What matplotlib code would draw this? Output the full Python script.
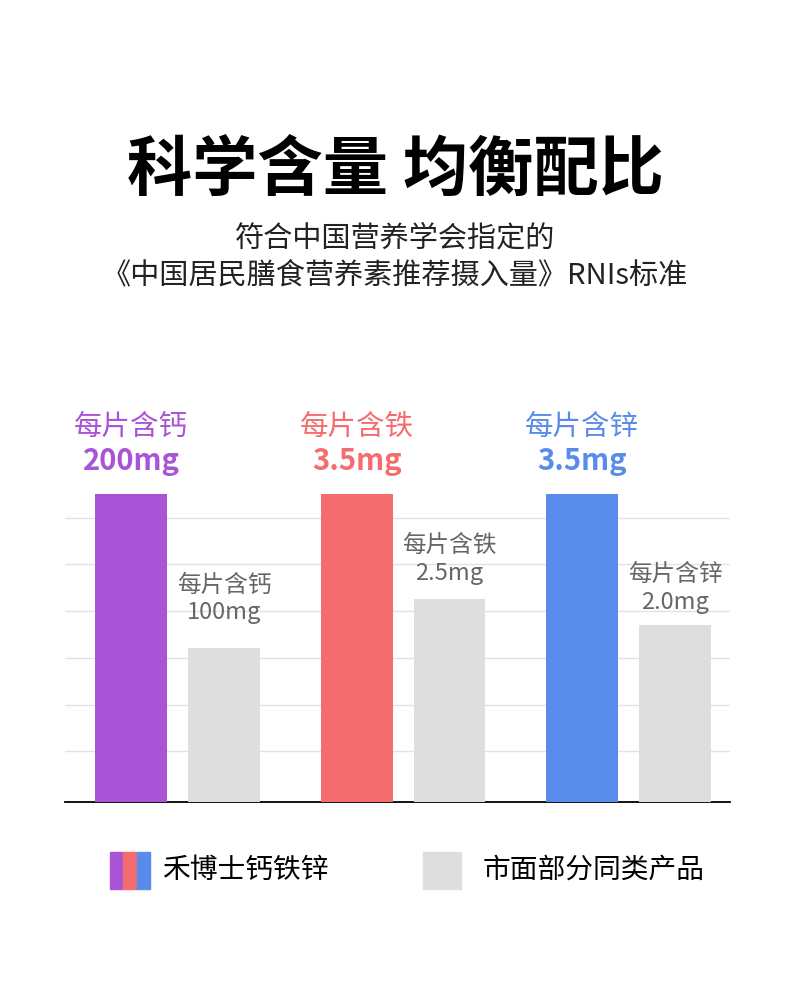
import matplotlib.pyplot as plt
from matplotlib.patches import Rectangle

plt.rcParams['font.family'] = ['Noto Sans CJK SC', 'DejaVu Sans']

nutrients = ["钙", "铁", "锌"]
brand_labels = ["200mg", "3.5mg", "3.5mg"]
market_labels = ["100mg", "2.5mg", "2.0mg"]
# bar heights as drawn, relative to the brand bar (=100)
brand_heights = [100, 100, 100]
market_heights = [50, 66, 57.5]
grid_ticks = [16.6, 31.5, 46.8, 62.0, 77.3, 92.2]
brand_colors = ["#A953D7", "#F56C6F", "#588BEA"]
market_color = "#DEDEDE"
legend_names = ["禾博士钙铁锌", "市面部分同类产品"]

# label offsets above the grey bars (points), they are not uniform in the source
market_off = [(45, 25.5), (38, 18), (36, 16)]

W, H = 790, 984
fig = plt.figure(figsize=(W / 100, H / 100), dpi=100)
fig.patch.set_facecolor("white")

# axes placed in pixel terms: x 65..730, baseline 802, top 400
ax = fig.add_axes([65 / W, 1 - 802 / H, (730 - 65) / W, (802 - 400) / H])
ax.set_xlim(-0.293, 2.656)
ax.set_ylim(0, (802 - 400) / 3.08)

x = range(len(nutrients))
offset = 0.412
width = 0.319
bx = [i for i in x]
mx = [i + offset for i in x]

ax.bar(bx, brand_heights, width=width, color=brand_colors, zorder=3)
ax.bar(mx, market_heights, width=width, color=market_color, zorder=3)

ax.set_yticks(grid_ticks)
ax.yaxis.grid(True, color="#E2E2E2", linewidth=1)
ax.set_axisbelow(True)
ax.tick_params(left=False, bottom=False, labelleft=False, labelbottom=False)
for s in ["top", "right", "left"]:
    ax.spines[s].set_visible(False)
ax.spines["bottom"].set_color("black")
ax.spines["bottom"].set_linewidth(1.3)

for i in x:
    ax.annotate("每片含" + nutrients[i], (bx[i], brand_heights[i]), xytext=(0, 48),
                textcoords="offset points", ha="center", va="center",
                fontsize=20.5, color=brand_colors[i], fontweight="medium")
    ax.annotate(brand_labels[i], (bx[i], brand_heights[i]), xytext=(0, 23.5),
                textcoords="offset points", ha="center", va="center",
                fontsize=21, color=brand_colors[i], fontweight="bold")
    ax.annotate("每片含" + nutrients[i], (mx[i], market_heights[i]), xytext=(0, market_off[i][0]),
                textcoords="offset points", ha="center", va="center",
                fontsize=17, color="#666666")
    ax.annotate(market_labels[i], (mx[i], market_heights[i]), xytext=(0, market_off[i][1]),
                textcoords="offset points", ha="center", va="center",
                fontsize=17, color="#666666")

# titles
fig.text(0.5, 1 - 170 / H, "科学含量 均衡配比", ha="center", va="center",
         fontsize=47, fontweight="heavy", color="black")
fig.text(0.5, 1 - 238 / H, "符合中国营养学会指定的", ha="center", va="center",
         fontsize=21, color="#222222")
fig.text(0.5, 1 - 276 / H, "《中国居民膳食营养素推荐摄入量》RNIs标准", ha="center", va="center",
         fontsize=21, color="#222222")

# legend
sw_y, sw_h = 1 - 889 / H, 37 / H
for k, c in enumerate(brand_colors):
    fig.patches.append(Rectangle(((110 + k * 13.3) / W, sw_y), 13.3 / W, sw_h,
                                 transform=fig.transFigure, color=c))
fig.patches.append(Rectangle((423 / W, sw_y), 38 / W, sw_h,
                             transform=fig.transFigure, color=market_color))
fig.text(162 / W, 1 - 870 / H, legend_names[0], ha="left", va="center",
         fontsize=20, color="black")
fig.text(483 / W, 1 - 870 / H, legend_names[1], ha="left", va="center",
         fontsize=20, color="black")

fig.savefig("out.png", dpi=100, facecolor="white")
